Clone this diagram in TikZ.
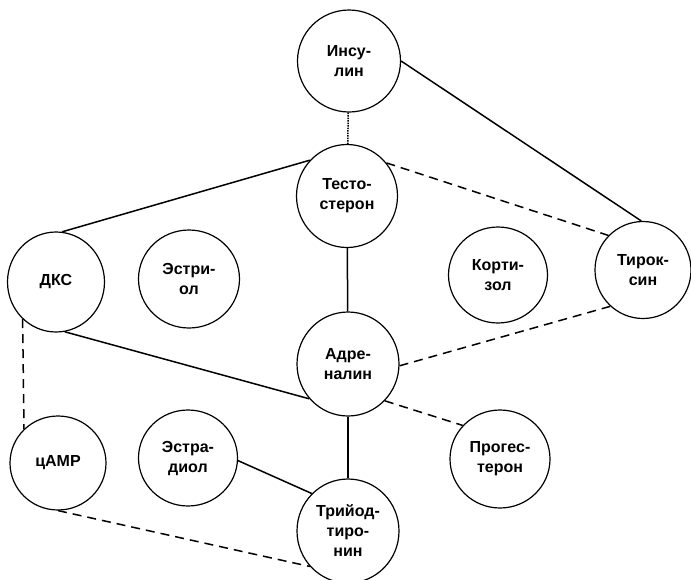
\documentclass[tikz,border=0pt]{standalone}
\usepackage{fontspec}
\setmainfont{Liberation Sans}
\usepackage{tikz}
\usetikzlibrary{shapes.geometric, positioning}

\tikzset{
    gormon/.style={ellipse, draw, line width=1.2pt, minimum width=100pt,
        minimum height=100pt, inner sep=0pt, align=center,
        font=\fontsize{16}{20}\selectfont\bfseries},
    svyaz/.style={line width=1.5pt},
    punktir/.style={line width=1.5pt, dash pattern=on 9pt off 6pt},
}

\begin{document}
\begin{tikzpicture}[x=1pt, y=-1pt]

    \useasboundingbox (0,0) rectangle (691,579);

    % =================================================================
    % 1. ГОРМОНЫ (КРУЖКИ)
    % =================================================================
    \node[gormon, minimum width=103pt, minimum height=102pt] (insulin) at (349,61) {Инсу-\\лин};
    \node[gormon, minimum width=101pt, minimum height=103pt] (testo) at (347,196) {Тесто-\\стерон};

    \node[gormon, minimum width=97pt] (dks) at (56,282) {ДКС};
    \node[gormon, minimum width=101pt, minimum height=98pt] (estriol) at (189,279) {Эстри-\\ол};
    \node[gormon, minimum width=99pt, minimum height=96pt] (kortizol) at (498,275) {Корти-\\зол};
    \node[gormon, minimum width=96pt, minimum height=97pt] (tiroksin) at (643,270) {Тирок-\\син};

    \node[gormon, minimum width=102pt, minimum height=104pt] (adrenalin) at (348,364) {Адре-\\налин};

    \node[gormon, minimum width=96pt, minimum height=94pt] (camp) at (58,463) {цАМР};
    \node[gormon, minimum width=99pt, minimum height=96pt] (estradiol) at (188,458) {Эстра-\\диол};
    \node[gormon, minimum width=100pt, minimum height=98pt] (progesteron) at (500,459) {Прогес-\\терон};
    \node[gormon, minimum width=102pt, minimum height=104pt] (triiod) at (348,531) {Трийод-\\тиро-\\нин};

    % =================================================================
    % 2. СВЯЗИ МЕЖДУ ГОРМОНАМИ
    % =================================================================
    % сплошные линии
    \draw[svyaz] (insulin.east) -- (tiroksin.92);
    \draw[svyaz] (testo.136) -- (dks.83);
    \draw[svyaz] (testo) -- (adrenalin);
    \draw[svyaz] (dks.-80) -- (adrenalin.-138);
    \draw[svyaz] (adrenalin) -- (triiod);
    \draw[svyaz] (estradiol.-3) -- (triiod.134);

    % пунктирные линии
    \draw[line width=1.5pt, densely dotted] (insulin) -- (testo);
    \draw[punktir] (testo.40) -- (tiroksin.135);
    \draw[punktir] (adrenalin.-2) -- (tiroksin.-132);
    \draw[punktir] (adrenalin.-45) -- (progesteron.138);
    \draw[punktir] (dks.-132) -- (camp.135);
    \draw[punktir] (camp.-90) -- (triiod.-137);

\end{tikzpicture}
\end{document}
